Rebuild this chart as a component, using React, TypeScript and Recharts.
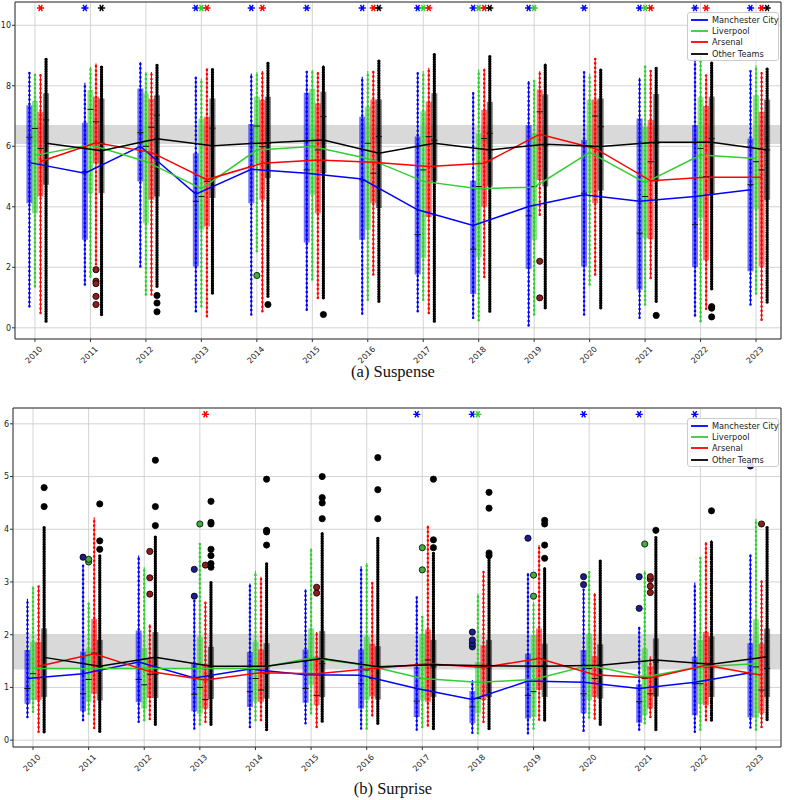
import React from 'react';
import { ComposedChart, Line, Scatter, XAxis, YAxis, CartesianGrid, ReferenceArea, Legend } from 'recharts';

const YEARS = [2010, 2011, 2012, 2013, 2014, 2015, 2016, 2017, 2018, 2019, 2020, 2021, 2022, 2023];
const TEAMS = ['Manchester City', 'Liverpool', 'Arsenal', 'Other Teams'];
const COLORS = ['#0000ff', '#32cd32', '#ff0000', '#000000'];
const FLIER_FILLS = ['#1c1c8f', '#3fae3f', '#8e1c1c', '#000000'];
const OFFSETS = [-0.1, 0, 0.1, 0.2];
const X_DOMAIN: [number, number] = [2009.64, 2023.45];

// rows: [whisker low, Q1, median, Q3, whisker high] per season
const SUSPENSE_CITY = [
  [0.71, 4.12, 6.3, 7.36, 8.46], [1.43, 2.91, 5.16, 6.78, 8.1], [2.03, 4.84, 6.45, 7.91, 8.79],
  [0.55, 2.03, 4.18, 5.77, 8.3], [0.44, 4.12, 5.33, 6.74, 8.41], [0.6, 2.82, 5.22, 7.77, 8.46],
  [0.47, 2.91, 4.89, 6.98, 8.3], [0.55, 1.76, 3.08, 6.32, 8.46], [0.33, 1.12, 2.6, 4.86, 7.75],
  [0.08, 1.95, 3.7, 6.7, 8.16], [0.44, 2.03, 4.45, 6.21, 8.48], [0.33, 1.26, 3.13, 6.92, 8.27],
  [0.41, 2.01, 3.41, 6.7, 8.9], [0.77, 1.87, 4.73, 6.26, 8.48],
];
const SUSPENSE_LIV = [
  [1.37, 3.79, 6.59, 7.5, 8.4], [1.7, 4.45, 7.22, 7.86, 8.63], [1.1, 3.46, 6.0, 7.75, 8.46],
  [0.71, 3.24, 4.34, 6.92, 8.24], [2.53, 5.44, 6.67, 7.64, 8.46], [1.6, 4.4, 6.0, 7.9, 8.52],
  [0.93, 3.24, 6.1, 7.31, 8.49], [0.93, 2.31, 5.22, 7.16, 8.49], [0.25, 2.33, 4.67, 6.43, 8.54],
  [0.44, 2.91, 4.67, 6.43, 8.2], [1.43, 4.45, 6.0, 7.53, 8.41], [0.77, 2.97, 4.34, 6.65, 8.66],
  [0.22, 3.63, 5.93, 7.62, 9.0], [1.13, 3.92, 5.49, 7.69, 8.67],
];
const SUSPENSE_ARS = [
  [0.49, 4.34, 5.93, 7.14, 8.35], [2.1, 5.44, 6.81, 7.64, 8.74], [1.1, 4.23, 6.63, 7.58, 8.46],
  [0.38, 3.35, 4.84, 6.98, 8.57], [0.55, 4.23, 5.99, 7.53, 8.49], [0.99, 3.79, 5.88, 7.42, 8.46],
  [1.76, 4.12, 5.11, 7.55, 8.49], [0.49, 3.66, 6.32, 7.47, 8.6], [1.68, 4.01, 6.26, 7.2, 8.57],
  [3.74, 4.89, 7.14, 7.88, 8.48], [1.76, 4.12, 7.0, 7.55, 8.9], [1.65, 2.93, 5.49, 6.87, 8.49],
  [0.63, 2.23, 5.0, 7.33, 8.35], [0.27, 2.03, 5.22, 7.14, 8.46],
];
const SUSPENSE_OTHERS = [
  [0.22, 4.73, 6.87, 7.75, 8.87], [0.44, 4.45, 6.1, 7.58, 8.63], [1.37, 4.34, 7.03, 7.69, 8.68],
  [1.15, 4.29, 6.6, 7.58, 8.54], [1.04, 4.95, 6.1, 7.64, 8.79], [0.99, 5.11, 6.98, 7.8, 8.68],
  [0.88, 3.96, 6.32, 7.55, 8.85], [0.22, 4.84, 6.2, 7.75, 9.07], [0.55, 4.67, 6.43, 7.47, 8.96],
  [0.66, 4.67, 6.04, 7.71, 8.74], [0.66, 4.54, 6.65, 7.58, 8.54], [0.88, 4.84, 6.1, 7.73, 8.58],
  [1.29, 4.4, 6.26, 7.64, 8.79], [0.85, 4.23, 5.88, 7.55, 8.57],
];
const SUSPENSE_MEAN_CITY = [5.46, 5.11, 6.0, 4.42, 5.24, 5.11, 4.92, 3.9, 3.38, 4.01, 4.4, 4.18, 4.34, 4.56];
const SUSPENSE_MEAN_LIV = [5.7, 6.05, 5.5, 4.6, 5.88, 5.99, 5.6, 4.84, 4.6, 4.65, 5.8, 4.8, 5.71, 5.6];
const SUSPENSE_MEAN_ARS = [5.5, 6.12, 5.8, 4.9, 5.44, 5.55, 5.47, 5.33, 5.44, 6.4, 5.93, 4.86, 4.98, 4.98];
const SUSPENSE_MEAN_OTHERS = [6.1, 5.85, 6.25, 6.02, 6.12, 6.21, 5.77, 6.1, 5.88, 6.07, 5.99, 6.13, 6.13, 5.88];
// [season, team index, value]
const SUSPENSE_FLIERS: [number, number, number][] = [
  [2011, 2, 1.92], [2011, 2, 1.54], [2011, 2, 1.46], [2011, 2, 1.04], [2011, 2, 0.77],
  [2012, 3, 1.07], [2012, 3, 0.82], [2012, 3, 0.53], [2014, 1, 1.73], [2014, 3, 0.77],
  [2015, 3, 0.44], [2019, 2, 2.2], [2019, 2, 0.99], [2021, 3, 0.41],
  [2022, 3, 0.7], [2022, 3, 0.65], [2022, 3, 0.36],
];
// [season, team index]
const SUSPENSE_STARS: [number, number][] = [
  [2010, 2], [2011, 0], [2011, 3], [2013, 0], [2013, 1], [2013, 2], [2014, 0], [2014, 2],
  [2015, 0], [2016, 0], [2016, 2], [2016, 3], [2017, 0], [2017, 1], [2017, 2],
  [2018, 0], [2018, 1], [2018, 2], [2018, 3], [2019, 0], [2019, 1], [2020, 0],
  [2021, 0], [2021, 1], [2021, 2], [2022, 0], [2022, 2], [2023, 0], [2023, 2], [2023, 3],
];

const SURPRISE_CITY = [
  [0.44, 0.69, 0.98, 1.71, 2.68], [0.38, 0.55, 0.88, 1.68, 3.33], [0.35, 0.72, 1.15, 2.08, 3.5],
  [0.22, 0.55, 0.87, 1.45, 2.65], [0.25, 0.63, 0.92, 1.67, 2.97], [0.32, 0.71, 0.98, 1.72, 2.86],
  [0.22, 0.6, 1.07, 1.72, 3.3], [0.2, 0.44, 0.74, 1.39, 2.72], [0.14, 0.32, 0.63, 0.93, 1.14],
  [0.13, 0.41, 0.85, 1.64, 3.17], [0.18, 0.51, 0.88, 1.71, 2.86], [0.2, 0.33, 0.73, 1.06, 2.15],
  [0.16, 0.47, 1.07, 1.58, 2.99], [0.24, 0.43, 1.26, 1.84, 3.52],
];
const SURPRISE_LIV = [
  [0.54, 0.76, 1.26, 1.86, 2.92], [0.5, 0.73, 1.15, 1.74, 2.6], [0.38, 0.6, 1.05, 1.75, 3.28],
  [0.3, 0.5, 1.0, 1.95, 3.73], [0.38, 0.73, 1.17, 1.86, 3.21], [0.51, 1.04, 1.26, 2.12, 3.64],
  [0.22, 0.76, 1.33, 1.96, 3.36], [0.25, 0.76, 1.17, 2.02, 2.34], [0.13, 0.51, 0.79, 1.48, 2.78],
  [0.22, 0.44, 0.92, 1.99, 2.62], [0.43, 0.76, 1.36, 2.02, 3.19], [0.32, 0.47, 1.17, 1.74, 3.22],
  [0.2, 0.69, 1.07, 1.9, 3.47], [0.2, 0.43, 1.39, 2.29, 4.2],
];
const SURPRISE_ARS = [
  [0.16, 0.76, 1.36, 1.86, 2.92], [0.23, 0.88, 1.65, 2.3, 4.23], [0.4, 0.8, 1.25, 1.55, 2.2],
  [0.35, 0.6, 0.77, 1.45, 2.62], [0.38, 0.73, 0.95, 1.72, 3.1], [0.25, 0.66, 0.85, 1.58, 2.05],
  [0.47, 0.83, 1.17, 1.83, 3.0], [0.28, 0.73, 1.52, 2.1, 4.07], [0.35, 0.76, 1.39, 1.8, 3.19],
  [0.39, 0.95, 1.55, 2.12, 3.7], [0.41, 0.82, 1.17, 1.59, 2.79], [0.44, 0.6, 0.88, 1.4, 1.59],
  [0.38, 0.66, 1.39, 2.05, 3.76], [0.25, 0.51, 0.95, 1.83, 3.03],
];
const SURPRISE_OTHERS = [
  [0.16, 0.82, 1.36, 2.12, 4.04], [0.17, 0.75, 1.4, 1.9, 3.5], [0.3, 0.8, 1.25, 2.05, 3.87],
  [0.3, 0.78, 1.2, 1.77, 3.0], [0.2, 0.79, 1.26, 1.84, 3.36], [0.36, 0.82, 1.45, 2.07, 3.95],
  [0.32, 0.77, 1.39, 1.78, 3.84], [0.22, 0.82, 1.39, 1.9, 3.57], [0.22, 0.82, 1.42, 1.9, 3.47],
  [0.38, 0.82, 1.42, 1.83, 3.28], [0.3, 0.79, 1.42, 1.82, 3.41], [0.2, 0.83, 1.48, 1.93, 3.85],
  [0.38, 0.82, 1.45, 1.97, 3.79], [0.39, 0.82, 1.36, 2.12, 4.04],
];
const SURPRISE_MEAN_CITY = [1.17, 1.26, 1.48, 1.18, 1.35, 1.24, 1.23, 0.98, 0.77, 1.12, 1.1, 0.98, 1.1, 1.28];
const SURPRISE_MEAN_LIV = [1.36, 1.36, 1.36, 1.36, 1.36, 1.56, 1.42, 1.17, 1.1, 1.15, 1.42, 1.2, 1.39, 1.45];
const SURPRISE_MEAN_ARS = [1.4, 1.64, 1.3, 1.14, 1.28, 1.26, 1.36, 1.45, 1.38, 1.55, 1.24, 1.18, 1.42, 1.23];
const SURPRISE_MEAN_OTHERS = [1.57, 1.4, 1.57, 1.4, 1.4, 1.55, 1.39, 1.43, 1.41, 1.4, 1.42, 1.52, 1.44, 1.58];
const SURPRISE_FLIERS: [number, number, number][] = [
  [2010, 3, 4.43], [2010, 3, 4.79], [2011, 0, 3.47], [2011, 1, 3.38], [2011, 1, 3.43],
  [2011, 3, 3.62], [2011, 3, 3.78], [2011, 3, 4.48], [2012, 2, 2.77], [2012, 2, 3.08], [2012, 2, 3.58],
  [2012, 3, 4.07], [2012, 3, 4.43], [2012, 3, 5.31], [2013, 0, 2.73], [2013, 0, 3.24], [2013, 1, 4.1],
  [2013, 2, 3.32], [2013, 3, 3.28], [2013, 3, 3.35], [2013, 3, 3.5], [2013, 3, 3.62], [2013, 3, 4.1],
  [2013, 3, 4.13], [2013, 3, 4.53], [2014, 3, 3.7], [2014, 3, 3.95], [2014, 3, 3.98], [2014, 3, 4.95],
  [2015, 2, 2.79], [2015, 2, 2.9], [2015, 3, 4.2], [2015, 3, 4.5], [2015, 3, 4.6], [2015, 3, 5.0],
  [2016, 3, 4.2], [2016, 3, 4.75], [2016, 3, 5.36], [2017, 1, 3.23], [2017, 1, 3.65],
  [2017, 3, 3.65], [2017, 3, 3.8], [2017, 3, 4.95], [2018, 0, 1.77], [2018, 0, 1.83], [2018, 0, 1.9],
  [2018, 0, 2.05], [2018, 3, 3.5], [2018, 3, 3.55], [2018, 3, 4.4], [2018, 3, 4.7],
  [2019, 0, 3.83], [2019, 1, 2.73], [2019, 1, 3.13], [2019, 3, 3.45], [2019, 3, 3.7], [2019, 3, 4.1],
  [2019, 3, 4.17], [2020, 0, 2.95], [2020, 0, 3.1], [2021, 0, 2.5], [2021, 0, 3.1], [2021, 1, 3.72],
  [2021, 2, 2.8], [2021, 2, 2.92], [2021, 2, 3.05], [2021, 2, 3.1], [2021, 3, 3.98],
  [2022, 3, 4.35], [2023, 0, 5.2], [2023, 2, 4.1],
];
const SURPRISE_STARS: [number, number][] = [
  [2013, 2], [2017, 0], [2018, 0], [2018, 1], [2020, 0], [2021, 0], [2022, 0],
];

type Pt = { x: number; y: number | null };

const vertical = (rows: number[][], off: number, a: number, b: number): Pt[] =>
  rows.flatMap((r, i) => {
    const x = YEARS[i] + off;
    return [{ x, y: r[a] }, { x, y: r[b] }, { x, y: null }];
  });

const horizontal = (rows: number[][], off: number, k: number, half: number): Pt[] =>
  rows.flatMap((r, i) => {
    const x = YEARS[i] + off;
    return [{ x: x - half, y: r[k] }, { x: x + half, y: r[k] }, { x, y: null }];
  });

const YearTick = (props: any) => {
  const { x, y, payload } = props;
  return (
    <g transform={`translate(${x - 1},${y + 11})`}>
      <text transform="rotate(-45)" textAnchor="middle" dominantBaseline="central" fontSize={8} fill="#222" fontFamily="DejaVu Sans">
        {payload.value}
      </text>
    </g>
  );
};

const Asterisk = (color: string) => (p: any) => {
  const { cx, cy } = p;
  const r = 3.6;
  const d = `M${cx - r},${cy}L${cx + r},${cy}M${cx - r / 2},${cy - r * 0.87}L${cx + r / 2},${cy + r * 0.87}M${cx + r / 2},${cy - r * 0.87}L${cx - r / 2},${cy + r * 0.87}`;
  return <path d={d} stroke={color} strokeWidth={1.4} fill="none" />;
};

const Flier = (fill: string) => (p: any) => (
  <circle cx={p.cx} cy={p.cy} r={3.1} fill={fill} stroke="#000" strokeWidth={0.8} />
);

const LegendBox = () => (
  <div style={{ border: '1px solid #cccccc', borderRadius: 3, background: 'rgba(255,255,255,0.85)', padding: '1px 3px 1px 2px', fontFamily: 'DejaVu Sans', fontSize: 8.2, color: '#222' }}>
    {TEAMS.map((t, i) => (
      <div key={t} style={{ display: 'flex', alignItems: 'center', height: 11.3, whiteSpace: 'nowrap' }}>
        <svg width={22} height={4} style={{ flex: 'none' }}>
          <line x1={1} y1={2} x2={18} y2={2} stroke={COLORS[i]} strokeWidth={1.8} />
        </svg>
        {t}
      </div>
    ))}
  </div>
);

type PanelProps = {
  boxes: number[][][];
  means: number[][];
  fliers: [number, number, number][];
  stars: [number, number][];
  starY: number;
  yDomain: [number, number];
  yTicks: number[];
  band: [number, number];
  height: number;
  marginTop: number;
  yAxisWidth: number;
  xAxisHeight: number;
};

const Panel: React.FC<PanelProps> = ({ boxes, means, fliers, stars, starY, yDomain, yTicks, band, height, marginTop, yAxisWidth, xAxisHeight }) => (
  <ComposedChart width={786} height={height} margin={{ top: marginTop, right: 5, bottom: 0, left: 0 }}>
    <CartesianGrid stroke="#cfcfcf" strokeWidth={0.9} />
    <XAxis
      type="number"
      dataKey="x"
      domain={X_DOMAIN}
      ticks={YEARS}
      interval={0}
      allowDataOverflow
      height={xAxisHeight}
      tickSize={3}
      tickLine={{ stroke: '#333' }}
      axisLine={false}
      tick={<YearTick />}
    />
    <YAxis
      type="number"
      dataKey="y"
      domain={yDomain}
      ticks={yTicks}
      interval={0}
      allowDataOverflow
      width={yAxisWidth}
      tickSize={3}
      tickMargin={1}
      axisLine={false}
      tickLine={{ stroke: '#333' }}
      tick={{ fontSize: 8, fill: '#222', fontFamily: 'DejaVu Sans' }}
    />
    <ReferenceArea x1={X_DOMAIN[0]} x2={X_DOMAIN[1]} y1={band[0]} y2={band[1]} fill="#c4c4c4" fillOpacity={0.65} stroke="none" ifOverflow="hidden" />
    {boxes.map((rows, t) => (
      <Line key={`box${t}`} data={vertical(rows, OFFSETS[t], 1, 3)} dataKey="y" stroke={COLORS[t]} strokeOpacity={t === 3 ? 0.5 : 0.55} strokeWidth={6} strokeLinecap="butt" dot={false} activeDot={false} legendType="none" isAnimationActive={false} />
    ))}
    {boxes.map((rows, t) => (
      <Line key={`wh${t}`} data={vertical(rows, OFFSETS[t], 0, 4)} dataKey="y" stroke={COLORS[t]} strokeWidth={1.1} dot={false} activeDot={false} legendType="none" isAnimationActive={false} />
    ))}
    {boxes.map((rows, t) => (
      <Line key={`pts${t}`} data={vertical(rows, OFFSETS[t], 0, 4)} dataKey="y" stroke={COLORS[t]} strokeWidth={t === 3 ? 3.4 : 2.6} strokeDasharray={t === 3 ? '0 2.4' : '0 4.4'} strokeLinecap="round" dot={false} activeDot={false} legendType="none" isAnimationActive={false} />
    ))}
    {boxes.map((rows, t) => (
      <Line key={`med${t}`} data={horizontal(rows, OFFSETS[t], 2, 0.055)} dataKey="y" stroke="#111" strokeWidth={1} dot={false} activeDot={false} legendType="none" isAnimationActive={false} />
    ))}
    {TEAMS.map((name, t) => (
      <Scatter key={`fl${t}`} data={fliers.filter((f) => f[1] === t).map((f) => ({ x: f[0] + OFFSETS[t], y: f[2] }))} dataKey="y" fill={FLIER_FILLS[t]} shape={Flier(FLIER_FILLS[t])} legendType="none" isAnimationActive={false} />
    ))}
    {means.map((vals, t) => (
      <Line key={`mean${t}`} name={TEAMS[t]} data={vals.map((v, i) => ({ x: YEARS[i] + OFFSETS[t], y: v }))} dataKey="y" stroke={COLORS[t]} strokeWidth={1.5} dot={false} activeDot={false} isAnimationActive={false} />
    ))}
    {TEAMS.map((name, t) => (
      <Scatter key={`st${t}`} data={stars.filter((s) => s[1] === t).map((s) => ({ x: s[0] + OFFSETS[t], y: starY }))} dataKey="y" fill={COLORS[t]} shape={Asterisk(COLORS[t])} legendType="none" isAnimationActive={false} />
    ))}
    <ReferenceArea x1={X_DOMAIN[0]} x2={X_DOMAIN[1]} y1={yDomain[0]} y2={yDomain[1]} fill="none" stroke="#333" strokeWidth={1} />
    <Legend layout="vertical" align="center" verticalAlign="middle" content={<LegendBox />} wrapperStyle={{ left: 687, top: marginTop + 10, width: 92 }} />
  </ComposedChart>
);

const captionStyle: React.CSSProperties = {
  position: 'absolute',
  left: 0,
  width: 786,
  textAlign: 'center',
  fontFamily: 'Liberation Serif',
  fontSize: 16.5,
  color: '#111',
};

export default function App() {
  return (
    <div style={{ position: 'absolute', left: 0, top: 0, width: 786, height: 800, background: '#fff' }}>
      <div style={{ position: 'absolute', left: 0, top: 0 }}>
        <Panel
          boxes={[SUSPENSE_CITY, SUSPENSE_LIV, SUSPENSE_ARS, SUSPENSE_OTHERS]}
          means={[SUSPENSE_MEAN_CITY, SUSPENSE_MEAN_LIV, SUSPENSE_MEAN_ARS, SUSPENSE_MEAN_OTHERS]}
          fliers={SUSPENSE_FLIERS}
          stars={SUSPENSE_STARS}
          starY={10.57}
          yDomain={[-0.37, 10.77]}
          yTicks={[0, 2, 4, 6, 8, 10]}
          band={[6.08, 6.7]}
          height={370}
          marginTop={2}
          yAxisWidth={15}
          xAxisHeight={31}
        />
      </div>
      <div style={{ ...captionStyle, top: 362 }}>(a) Suspense</div>
      <div style={{ position: 'absolute', left: 0, top: 395 }}>
        <Panel
          boxes={[SURPRISE_CITY, SURPRISE_LIV, SURPRISE_ARS, SURPRISE_OTHERS]}
          means={[SURPRISE_MEAN_CITY, SURPRISE_MEAN_LIV, SURPRISE_MEAN_ARS, SURPRISE_MEAN_OTHERS]}
          fliers={SURPRISE_FLIERS}
          stars={SURPRISE_STARS}
          starY={6.18}
          yDomain={[-0.13, 6.3]}
          yTicks={[0, 1, 2, 3, 4, 5, 6]}
          band={[1.34, 2.0]}
          height={385}
          marginTop={13}
          yAxisWidth={13}
          xAxisHeight={33}
        />
      </div>
      <div style={{ ...captionStyle, top: 779 }}>(b) Surprise</div>
    </div>
  );
}
